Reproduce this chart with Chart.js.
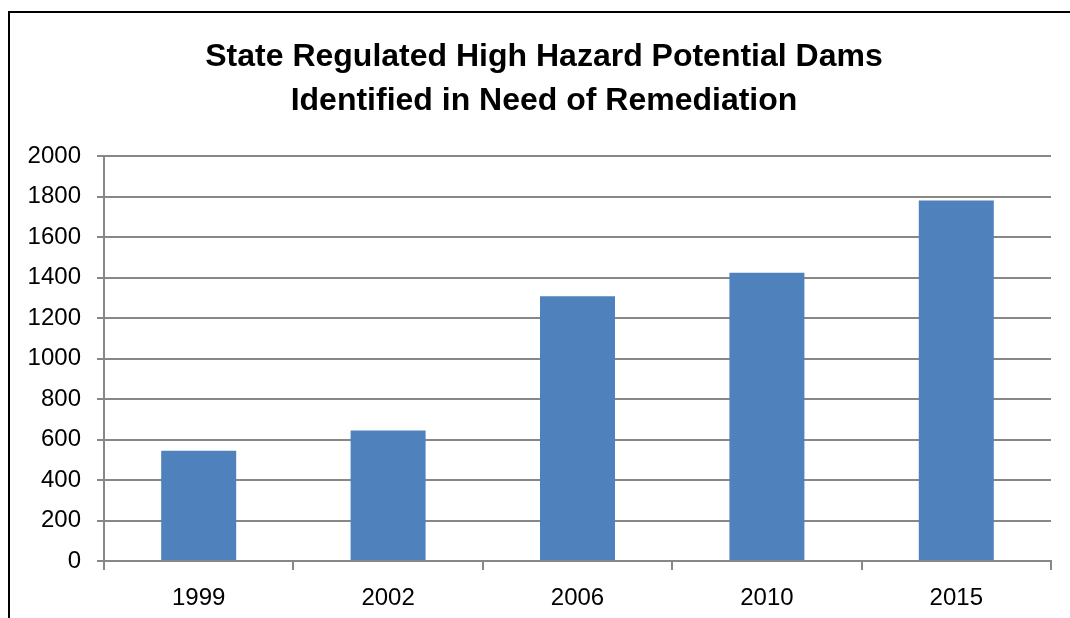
<!DOCTYPE html>
<html>
<head>
<meta charset="utf-8">
<script src="https://cdn.jsdelivr.net/npm/chart.js@4"></script>
<style>
  html, body { margin: 0; padding: 0; background: #fff; overflow: hidden; }
  #frame {
    position: absolute; left: 8px; top: 11px;
    width: 1070px; height: 620px;
    border-left: 2px solid #000; border-top: 2px solid #000;
  }
  #wrap { position: absolute; left: 0; top: 0; width: 1060px; height: 605px; }
</style>
</head>
<body>
<div id="frame"><div id="wrap"><canvas id="damsChart"></canvas></div></div>
<script>
// Dados do grafico
const years = ['1999', '2002', '2006', '2010', '2015'];
const damCounts = [545, 644, 1308, 1424, 1780];
const titleLines = ['State Regulated High Hazard Potential Dams', 'Identified in Need of Remediation'];
const yMax = 2000;
const yStep = 200;

const gridColor = '#878787';
const fontFamily = "'Liberation Sans', Arial, sans-serif";

// desloca o titulo um pouco para a direita, como no original
const titleShift = {
    id: 'titleShift',
    afterLayout: function(chart) {
        if (chart.titleBlock) {
            chart.titleBlock.left += 27;
        }
    }
};

const ctx = document.getElementById('damsChart').getContext('2d');
const damsChart = new Chart(ctx, {
    type: 'bar',
    data: {
        labels: years,
        datasets: [{
            data: damCounts,
            backgroundColor: '#4F81BD',
            borderWidth: 0,
            categoryPercentage: 1.0,
            barPercentage: 0.396
        }]
    },
    options: {
        responsive: true,
        maintainAspectRatio: false,
        animation: false,
        layout: { padding: { left: 0, right: 19, top: 0, bottom: 0 } },
        plugins: {
            legend: { display: false },
            tooltip: { enabled: false },
            title: {
                display: true,
                text: titleLines,
                color: '#000',
                font: { family: fontFamily, size: 32, weight: 'bold', lineHeight: 1.375 },
                padding: { top: 22, bottom: 33 }
            }
        },
        scales: {
            x: {
                grid: {
                    offset: true,
                    drawOnChartArea: false,
                    drawTicks: true,
                    tickLength: 9,
                    color: gridColor,
                    lineWidth: 2
                },
                border: { color: gridColor, width: 2 },
                ticks: {
                    color: '#000',
                    padding: 14,
                    font: { family: fontFamily, size: 24 }
                },
                afterFit: function(scale) { scale.height = 57; }
            },
            y: {
                min: 0,
                max: yMax,
                grid: {
                    color: gridColor,
                    lineWidth: 2,
                    tickLength: 7
                },
                border: { color: gridColor, width: 2 },
                ticks: {
                    stepSize: yStep,
                    color: '#000',
                    padding: 16,
                    font: { family: fontFamily, size: 24 },
                    callback: function(value) { return String(value); }
                },
                afterFit: function(scale) { scale.width = 94; }
            }
        }
    },
    plugins: [titleShift]
});
</script>
</body>
</html>
